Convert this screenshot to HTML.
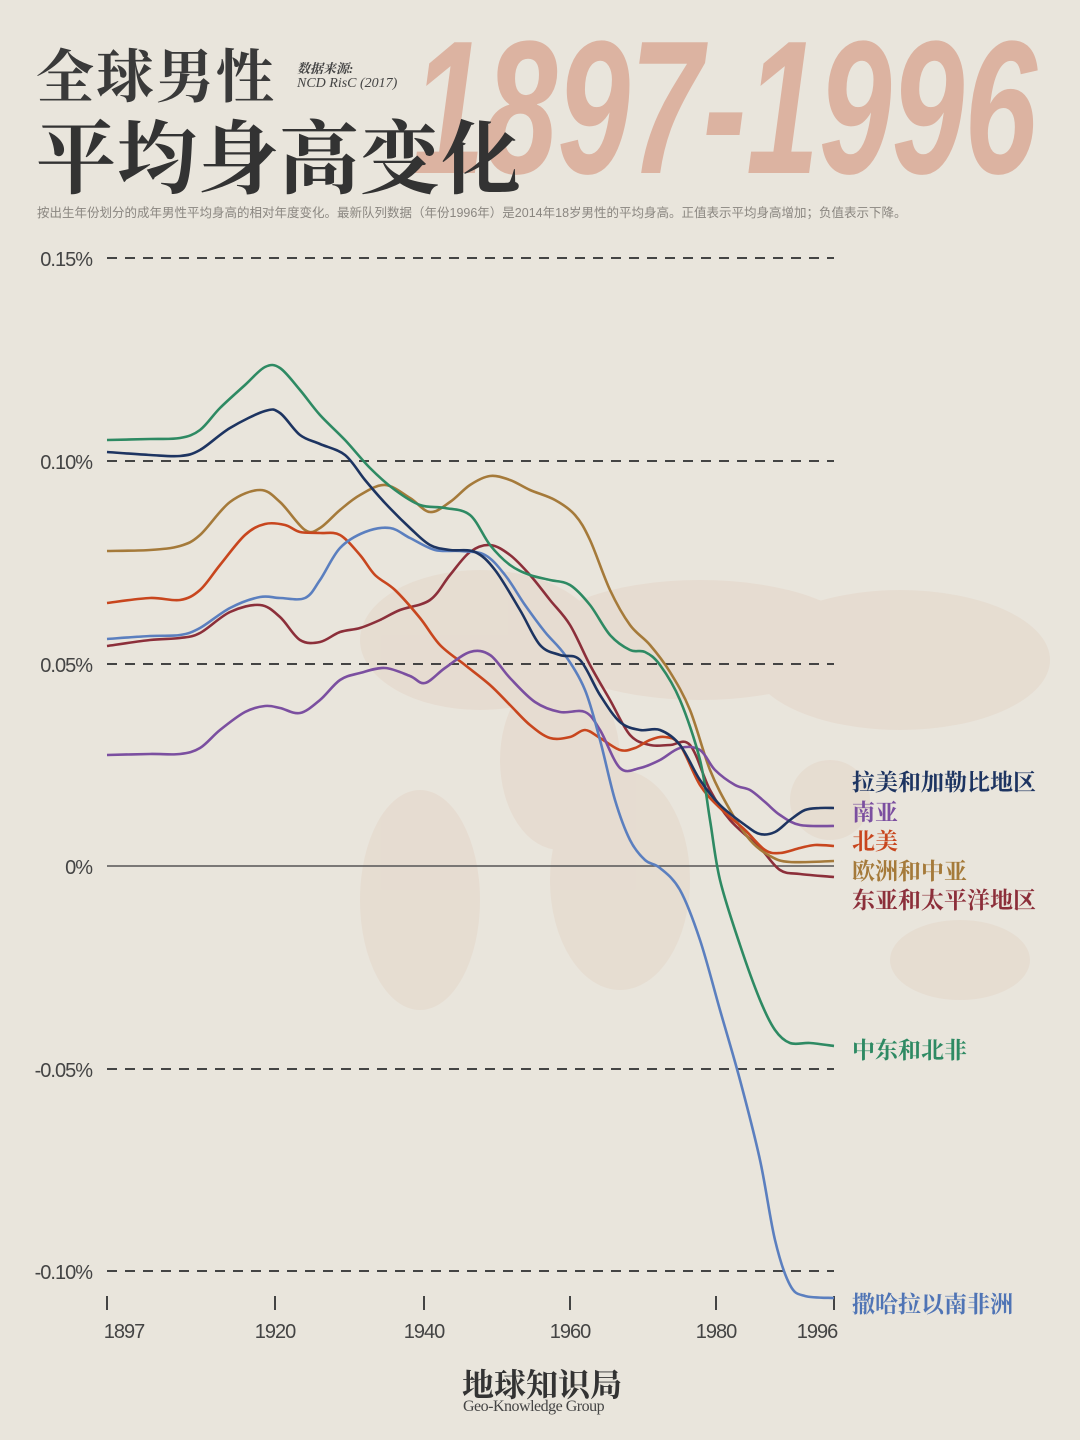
<!DOCTYPE html>
<html><head><meta charset="utf-8"><style>
body{margin:0;width:1080px;height:1440px;background:#e9e5dc;overflow:hidden;position:relative;font-family:"Liberation Sans","Noto Sans CJK SC",sans-serif}
.a{position:absolute;white-space:nowrap}
.serif{font-family:"Liberation Serif","Noto Serif CJK SC",serif;font-weight:bold}
</style></head><body>
<svg class="a" style="left:0;top:0" width="1080" height="1440">
<g fill="#e2c9b8" opacity="0.3">
<ellipse cx="480" cy="640" rx="120" ry="70"/>
<ellipse cx="560" cy="760" rx="60" ry="90"/>
<ellipse cx="700" cy="640" rx="160" ry="60"/>
<ellipse cx="900" cy="660" rx="150" ry="70"/>
<ellipse cx="420" cy="900" rx="60" ry="110"/>
<ellipse cx="620" cy="880" rx="70" ry="110"/>
<ellipse cx="960" cy="960" rx="70" ry="40"/>
<ellipse cx="830" cy="800" rx="40" ry="40"/>
</g>
<text x="412" y="173" font-family="Liberation Sans" font-weight="bold" font-style="italic" font-size="190" fill="#dcb3a1" textLength="625" lengthAdjust="spacingAndGlyphs">1897-1996</text>
<g stroke="#444" stroke-width="2" stroke-dasharray="10 8">
<line x1="107" y1="258" x2="834" y2="258"/><line x1="107" y1="461" x2="834" y2="461"/>
<line x1="107" y1="664" x2="834" y2="664"/><line x1="107" y1="1069" x2="834" y2="1069"/>
<line x1="107" y1="1271" x2="834" y2="1271"/></g>
<line x1="107" y1="866" x2="834" y2="866" stroke="#555" stroke-width="1.5"/>
<g stroke="#444" stroke-width="2">
<line x1="107" y1="1296" x2="107" y2="1310"/><line x1="275" y1="1296" x2="275" y2="1310"/>
<line x1="424" y1="1296" x2="424" y2="1310"/><line x1="570" y1="1296" x2="570" y2="1310"/>
<line x1="716" y1="1296" x2="716" y2="1310"/><line x1="834" y1="1296" x2="834" y2="1310"/></g>
<g font-size="20" fill="#444" font-family="Liberation Sans" letter-spacing="-1">
<text x="92" y="266" text-anchor="end">0.15%</text><text x="92" y="469" text-anchor="end">0.10%</text>
<text x="92" y="672" text-anchor="end">0.05%</text><text x="92" y="874" text-anchor="end">0%</text>
<text x="92" y="1077" text-anchor="end">-0.05%</text><text x="92" y="1279" text-anchor="end">-0.10%</text>
<text x="124" y="1338" text-anchor="middle">1897</text><text x="275" y="1338" text-anchor="middle">1920</text>
<text x="424" y="1338" text-anchor="middle">1940</text><text x="570" y="1338" text-anchor="middle">1960</text>
<text x="716" y="1338" text-anchor="middle">1980</text><text x="817" y="1338" text-anchor="middle">1996</text></g>
<g id="lines" fill="none" stroke-width="2.6"></g>
</svg>
<div class="a serif" style="left:36px;top:30px;font-size:58px;color:#3a3a3a;letter-spacing:2px">全球男性</div>
<div class="a serif" style="left:36px;top:95px;font-size:80px;color:#333;letter-spacing:1px">平均身高变化</div>
<div class="a serif" style="left:297px;top:58px;font-size:13px;color:#444;font-style:italic">数据来源:</div>
<div class="a" style="left:297px;top:76px;font-size:14px;color:#444;font-style:italic;font-family:'Liberation Serif',serif">NCD RisC (2017)</div>
<div class="a" style="left:37px;top:202px;font-size:12.5px;color:#8a8680">按出生年份划分的成年男性平均身高的相对年度变化。最新队列数据（年份1996年）是2014年18岁男性的平均身高。正值表示平均身高增加；负值表示下降。</div>
<div class="a serif" style="left:852px;top:768px;font-size:23px;line-height:29.5px">
<div style="color:#1d3461">拉美和加勒比地区</div><div style="color:#7b4fa0">南亚</div><div style="color:#c8461e">北美</div><div style="color:#a57a3a">欧洲和中亚</div><div style="color:#8c2f3a">东亚和太平洋地区</div></div>
<div class="a serif" style="left:852px;top:1032px;font-size:23px;color:#2e8a63">中东和北非</div>
<div class="a serif" style="left:852px;top:1286px;font-size:23px;color:#4f74b5">撒哈拉以南非洲</div>
<div class="a serif" style="left:462px;top:1360px;font-size:32px;color:#333">地球知识局</div>
<div class="a" style="left:463px;top:1398px;font-size:16px;color:#444;font-family:'Liberation Serif',serif;letter-spacing:-0.5px">Geo-Knowledge Group</div>
<script>
var D={
"#8c2f3a":[[107,646],[150,640],[180,638],[200,633],[230,612],[260,605],[280,617],[300,640],[320,642],[340,632],[360,628],[380,620],[400,610],[430,600],[450,575],[470,552],[490,545],[510,555],[530,575],[550,600],[570,625],[590,665],[610,700],[630,735],[650,745],[670,745],[690,745],[710,790],[730,820],[760,848],[780,870],[800,874],[834,877]],
"#a57a3a":[[107,551],[150,550],[180,546],[200,535],[230,502],[260,490],[280,502],[305,530],[320,528],[340,510],[360,495],[385,485],[410,498],[430,512],[450,502],[470,485],[490,476],[510,480],[530,490],[555,500],[575,515],[590,540],[610,590],[630,625],[650,645],[670,672],[690,710],[710,770],[730,810],[750,840],[770,856],[790,862],[834,861]],
"#c8461e":[[107,603],[150,598],[180,600],[200,590],[220,565],[245,535],[265,524],[285,525],[300,532],[320,533],[340,535],[360,555],[375,575],[395,590],[420,618],[440,645],[465,665],[490,685],[510,705],[530,725],[550,738],[570,737],[585,730],[600,738],[620,750],[635,748],[650,740],[665,737],[680,745],[700,785],[720,808],[745,830],[765,850],[780,853],[800,848],[815,845],[834,846]],
"#7b4fa0":[[107,755],[150,754],[180,754],[200,748],[220,730],[245,712],[265,706],[280,708],[300,713],[320,700],[340,680],[360,673],[385,668],[410,676],[425,683],[445,668],[470,652],[490,655],[510,678],[535,702],[560,712],[585,712],[600,730],[620,768],[640,768],[660,760],[680,748],[700,750],[715,770],[735,785],[750,790],[765,802],[780,815],[800,825],[834,826]],
"#5b7fbf":[[107,639],[150,636],[180,635],[200,628],[230,608],[260,597],[280,598],[305,598],[320,580],[340,548],[365,532],[390,528],[410,538],[435,550],[460,551],[485,555],[505,575],[525,605],[545,632],[565,655],[585,690],[600,740],[615,800],[630,840],[645,860],[660,868],[680,890],[700,940],[720,1010],[740,1080],[760,1160],[775,1240],[790,1285],[805,1296],[834,1298]],
"#2e8a63":[[107,440],[150,439],[180,438],[200,430],[220,408],[245,385],[265,367],[280,368],[300,390],[320,415],[345,440],[370,468],[395,490],[420,505],[445,508],[470,515],[490,545],[510,565],[530,575],[550,580],[570,585],[590,605],[610,635],[630,650],[645,652],[660,665],[680,700],[700,760],[710,820],[720,880],[740,945],[760,1000],[775,1030],[790,1043],[810,1043],[834,1046]],
"#1d3461":[[107,452],[150,455],[180,456],[200,450],[230,428],[265,411],[280,413],[300,435],[320,444],[345,455],[365,480],[385,503],[410,528],[430,545],[450,550],[475,552],[495,570],[520,610],[540,645],[560,655],[580,660],[600,695],[620,722],[640,730],[660,730],[680,745],[700,780],[720,805],[745,825],[760,834],[775,832],[790,820],[805,810],[820,808],[834,808]]};
var g=document.getElementById('lines');
for(var c in D){var p=D[c],d='M'+p[0][0]+','+p[0][1];
for(var i=0;i<p.length-1;i++){var a=p[Math.max(i-1,0)],b=p[i],e=p[i+1],f=p[Math.min(i+2,p.length-1)];
d+='C'+(b[0]+(e[0]-a[0])/6)+','+(b[1]+(e[1]-a[1])/6)+' '+(e[0]-(f[0]-b[0])/6)+','+(e[1]-(f[1]-b[1])/6)+' '+e[0]+','+e[1];}
var el=document.createElementNS('http://www.w3.org/2000/svg','path');el.setAttribute('d',d);el.setAttribute('stroke',c);g.appendChild(el);}
</script>
</body></html>
